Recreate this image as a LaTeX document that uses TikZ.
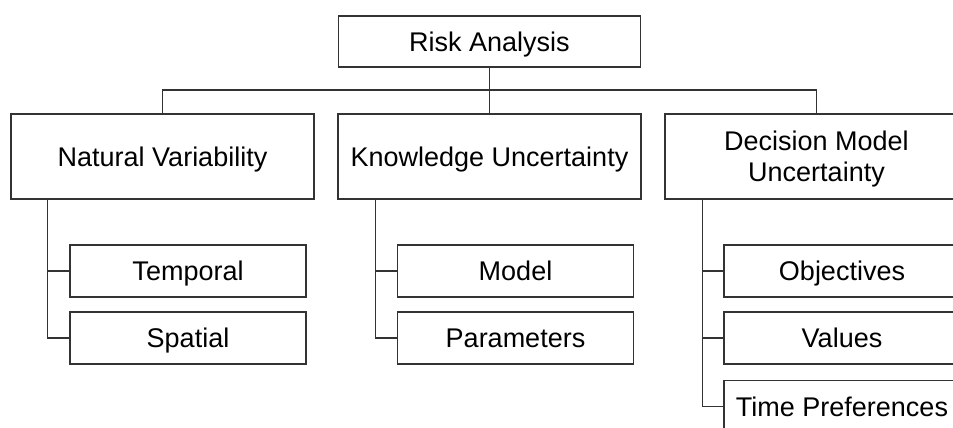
\documentclass[tikz,border=0pt]{standalone}
\usepackage{fontspec}
\setmainfont{Liberation Sans}
\tikzset{
  box/.style={draw=black!80, line width=0.65pt, fill=white, inner sep=0pt,
              font=\fontsize{13.5}{15.5}\selectfont, align=center,
              text height=9.7pt, text depth=0pt},
  topbox/.style={box, minimum width=151.5pt, minimum height=42.5pt},
  subbox/.style={box, minimum width=118pt, minimum height=26pt},
  link/.style={draw=black!80, line width=0.65pt}
}
\begin{document}
\begin{tikzpicture}[x=0.5pt, y=-0.5pt]
                    \clip (0,0) rectangle (953,428);
                    \fill[white] (0,0) rectangle (953,428);
                    % Root
                    \node[box, minimum width=151pt, minimum height=25.5pt] (risk) at (489.5,41.5) {Risk Analysis};
                    % Main branches
                    \node[topbox] (natural) at (162.5,156.5) {Natural Variability};
                    \node[topbox] (knowledge) at (489.5,156.5) {Knowledge Uncertainty};
                    \node[topbox, text height=25.2pt] (decision) at (816.5,156.5) {Decision Model\\Uncertainty};
                    \coordinate (bus) at (489.5,90);
                    \draw[link] (risk.south) -- (bus) -- (knowledge.north);
                    \draw[link] (natural.north) |- (bus) -| (decision.north);
                    % Natural Variability
                    \node[subbox] (temporal) at (188,271) {Temporal};
                    \node[subbox] (spatial) at (188,338) {Spatial};
                    \draw[link] ([xshift=18.5pt]natural.south west) |- (temporal.west);
                    \draw[link] ([xshift=18.5pt]natural.south west) |- (spatial.west);
                    % Knowledge Uncertainty
                    \node[subbox] (model) at (515.5,271) {Model};
                    \node[subbox] (parameters) at (515.5,338) {Parameters};
                    \draw[link] ([xshift=19pt]knowledge.south west) |- (model.west);
                    \draw[link] ([xshift=19pt]knowledge.south west) |- (parameters.west);
                    % Decision Model Uncertainty
                    \node[subbox] (objectives) at (842,271) {Objectives};
                    \node[subbox] (values) at (842,338) {Values};
                    \node[subbox] (timepref) at (842,406.5) {Time Preferences};
                    \draw[link] ([xshift=19pt]decision.south west) |- (objectives.west);
                    \draw[link] ([xshift=19pt]decision.south west) |- (values.west);
                    \draw[link] ([xshift=19pt]decision.south west) |- (timepref.west);
                \end{tikzpicture}
\end{document}
